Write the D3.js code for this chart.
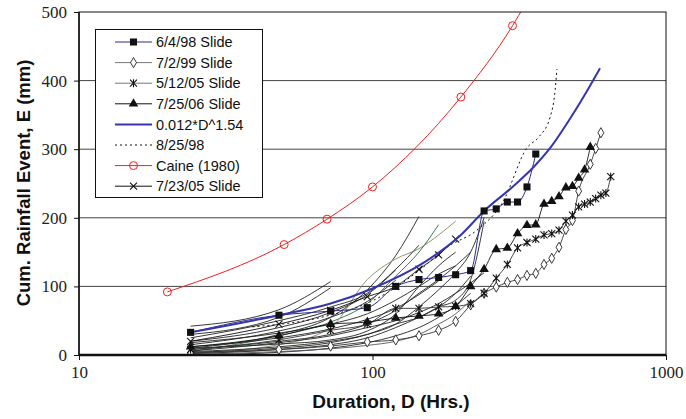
<!DOCTYPE html>
<html>
<head>
<meta charset="utf-8">
<script src="https://cdn.jsdelivr.net/npm/d3@7"></script>
<style>
  body { margin: 0; background: #fff; }
  svg { display: block; }
</style>
</head>
<body>
<svg id="chart" width="686" height="419"></svg>
<script>
// daily durations (hrs) the slide records are sampled at
const durations = [24, 48, 72, 96, 120, 144, 168, 192, 216, 240, 264, 288, 312, 336,
                   360, 384, 408, 432, 456, 480, 504, 528, 552, 576, 600, 624, 648];

// cumulative rainfall (mm) per duration
const slide060498 = [33, 58, 64, 69, 100, 110, 113, 117, 123, 210, 213, 223, 223, 245, 293];
const slide070299 = [3, 8, 13, 19, 22, 28, 36, 49, 73, 90, 99, 106, 110, 116, 119, 132, 141, 157, 183, 196, 239, null, 278, 301, 324];
const slide051205 = [8, 22, 36, 45, 68, 68, 70, 71, 75, 90, 112, 132, 156, 164, 169, 175, 177, 182, 195, 204, 216, 220, 223, 228, 233, 236, 260];
const slide072506 = [12, 28, 45, 48, 54, 57, 60, 71, 100, 125, 154, 156, 177, 189, 190, 220, 224, 231, 244, 246, 258, 270, 303];
const slide072305 = [20, 45, 65, 85, 100, 125, 146, 169];

// other (non-slide) events, thin lines
const otherEvents = [
  { c: '#222', e: [42, 66, 107] },
  { c: '#222', e: [30, 55, 98] },
  { c: '#222', e: [20, 40, 62, 88, 124] },
  { c: '#222', e: [15, 35, 55, 78, 109] },
  { c: '#222', e: [10, 30, 55, 95, 145, 202] },
  { c: '#1d6b45', e: [5, 28, 48, 75, 115, 150, 190] },
  { c: '#8a8462', e: [3, 15, 40, 110, 140, 155, 175, 195] },
  { c: '#222', e: [8, 20, 30, 45, 65, 90, 110, 130, 150] },
  { c: '#222', e: [5, 12, 20, 30, 45, 70, 95, 120, 150, 200] },
  { c: '#222', e: [12, 25, 38, 52, 68, 88, 108] },
  { c: '#222', e: [2, 8, 15, 25, 40, 55, 70, 90, 115] },
  { c: '#222', e: [6, 18, 28, 40, 50, 62, 75, 90, 105, 120] },
  { c: '#222', e: [0, 4, 10, 18, 28, 40, 55, 72, 90] },
  { c: '#222', e: [18, 32, 45, 60, 80, 100, 118, 130] },
  { c: '#222', e: [25, 50, 70, 90, 125, 160] },
  { c: '#222', e: [10, 16, 22, 35, 60, 100, 130, 150] },
  { c: '#222', e: [4, 10, 18, 30, 45, 55, 70, 80, 110, 195] },
  { c: '#555', e: [1, 5, 9, 14, 20, 30, 45, 60, 80] }
];

const powerD = [24, 48, 72, 100, 150, 200, 240, 300, 354, 400, 475, 545, 596];
const powerE = [33, 58, 75, 97, 135, 175, 210, 245, 274, 300, 347, 389, 418];

const event082598D = [39, 67, 100, 145, 179, 227, 278, 336, 369, 403, 419, 425];
const event082598E = [41, 55, 79, 124, 157, 182, 223, 302, 318, 347, 386, 417];

const caineD = [20, 50, 70, 100, 200, 300, 330];
const caineE = [92, 161, 198, 245, 376, 480, 510];

const xTicks = [10, 100, 1000];
const yTicks = [0, 100, 200, 300, 400, 500];

const legendItems = [
  { label: '6/4/98 Slide', color: '#2b2b8f', marker: 'square' },
  { label: '7/2/99 Slide', color: '#777', marker: 'diamond' },
  { label: '5/12/05 Slide', color: '#777', marker: 'asterisk' },
  { label: '7/25/06 Slide', color: '#111', marker: 'triangle' },
  { label: '0.012*D^1.54', color: '#3535b0', marker: null, width: 2 },
  { label: '8/25/98', color: '#111', marker: null, dash: '2,3' },
  { label: 'Caine (1980)', color: '#f02020', marker: 'circle' },
  { label: '7/23/05 Slide', color: '#111', marker: 'cross' }
];

const margin = { left: 79, right: 666, top: 12, bottom: 355 };

const svg = d3.select('#chart');
const x = d3.scaleLog().domain([10, 1000]).range([margin.left, margin.right]);
const y = d3.scaleLinear().domain([0, 500]).range([margin.bottom, margin.top]);

svg.append('defs').append('clipPath').attr('id', 'plot')
  .append('rect')
  .attr('x', margin.left).attr('y', margin.top)
  .attr('width', margin.right - margin.left).attr('height', margin.bottom - margin.top);

// horizontal grid
svg.append('g').selectAll('line').data(yTicks.slice(1, -1)).enter().append('line')
  .attr('x1', margin.left).attr('x2', margin.right)
  .attr('y1', d => y(d)).attr('y2', d => y(d))
  .attr('stroke', '#444').attr('stroke-width', 1);

const pairs = (ds, es) => ds.map((d, i) => [d, es[i]]).filter(p => p[1] != null);
const daily = (es) => pairs(durations.slice(0, es.length), es);

const line = d3.line().x(p => x(p[0])).y(p => y(p[1])).curve(d3.curveMonotoneX);

const plot = svg.append('g').attr('clip-path', 'url(#plot)');

plot.selectAll('path.other').data(otherEvents).enter().append('path')
  .attr('class', 'other')
  .attr('d', d => line(daily(d.e)))
  .attr('fill', 'none').attr('stroke', d => d.c).attr('stroke-width', 0.9);

const drawLine = (pts, color, width, dash) => plot.append('path')
  .attr('d', line(pts)).attr('fill', 'none')
  .attr('stroke', color).attr('stroke-width', width)
  .attr('stroke-dasharray', dash || null);

const markerPath = (kind) => {
  if (kind === 'square') return d3.symbol(d3.symbolSquare, 50)();
  if (kind === 'diamond') return d3.symbol(d3.symbolDiamond, 30)();
  if (kind === 'triangle') return d3.symbol(d3.symbolTriangle, 40)();
  if (kind === 'circle') return d3.symbol(d3.symbolCircle, 50)();
  if (kind === 'cross') return 'M-3.5,-3.5L3.5,3.5M-3.5,3.5L3.5,-3.5';
  if (kind === 'asterisk') return 'M-3.5,-3.5L3.5,3.5M-3.5,3.5L3.5,-3.5M0,-4L0,4';
  return null;
};

const markerStyle = (sel, kind, color) => {
  if (kind === 'square' || kind === 'triangle') sel.attr('fill', '#111').attr('stroke', 'none');
  else if (kind === 'diamond') sel.attr('fill', '#fff').attr('stroke', '#222').attr('stroke-width', 0.9);
  else if (kind === 'circle') sel.attr('fill', 'none').attr('stroke', color).attr('stroke-width', 1);
  else sel.attr('fill', 'none').attr('stroke', '#111').attr('stroke-width', 1.1);
};

const drawMarkers = (pts, kind, color) => {
  const g = plot.append('g');
  g.selectAll('path').data(pts).enter().append('path')
    .attr('transform', p => `translate(${x(p[0])},${y(p[1])})`)
    .attr('d', markerPath(kind))
    .call(markerStyle, kind, color);
};

// the slide series
drawLine(daily(slide070299), '#333', 0.9);
drawMarkers(daily(slide070299), 'diamond');
drawLine(daily(slide051205), '#333', 0.9);
drawMarkers(daily(slide051205), 'asterisk');
drawLine(daily(slide072506), '#111', 0.9);
drawMarkers(daily(slide072506), 'triangle');
drawLine(daily(slide072305), '#111', 0.9);
drawMarkers(daily(slide072305), 'cross');
drawLine(pairs(event082598D, event082598E), '#111', 1, '2,3');
drawLine(daily(slide060498), '#2b2b8f', 1);
drawLine(pairs(powerD, powerE), '#3535b0', 2);
drawMarkers(daily(slide060498), 'square');
drawLine(pairs(caineD, caineE), '#f02020', 1);
drawMarkers(pairs(caineD, caineE), 'circle', '#f02020');

// frame
svg.append('rect')
  .attr('x', margin.left).attr('y', margin.top)
  .attr('width', margin.right - margin.left).attr('height', margin.bottom - margin.top)
  .attr('fill', 'none').attr('stroke', '#111').attr('stroke-width', 1);
svg.append('line')
  .attr('x1', margin.left).attr('x2', margin.right)
  .attr('y1', margin.bottom).attr('y2', margin.bottom)
  .attr('stroke', '#111').attr('stroke-width', 2.5);
svg.append('line')
  .attr('x1', margin.left).attr('x2', margin.left)
  .attr('y1', margin.top).attr('y2', margin.bottom)
  .attr('stroke', '#111').attr('stroke-width', 1.5);

// axes
const xAxis = svg.append('g').attr('transform', `translate(0,${margin.bottom})`)
  .call(d3.axisBottom(x).tickValues(xTicks).tickFormat(d3.format('d')).tickSize(5).tickPadding(6));
const yAxis = svg.append('g').attr('transform', `translate(${margin.left},0)`)
  .call(d3.axisLeft(y).tickValues(yTicks).tickSize(5).tickPadding(7));
[xAxis, yAxis].forEach(a => {
  a.select('.domain').remove();
  a.selectAll('text').attr('font-family', 'Liberation Serif, serif').attr('font-size', 17).attr('fill', '#222');
  a.selectAll('line').attr('stroke', '#111');
});

svg.append('text')
  .attr('x', 391).attr('y', 408).attr('text-anchor', 'middle')
  .attr('font-family', 'Liberation Sans, Arial, sans-serif').attr('font-weight', 'bold')
  .attr('font-size', 19).attr('fill', '#111')
  .text('Duration, D (Hrs.)');
svg.append('text')
  .attr('transform', 'translate(30,183) rotate(-90)').attr('text-anchor', 'middle')
  .attr('font-family', 'Liberation Sans, Arial, sans-serif').attr('font-weight', 'bold')
  .attr('font-size', 18.5).attr('fill', '#111')
  .text('Cum. Rainfall Event, E (mm)');

// legend
const legend = svg.append('g');
legend.append('rect')
  .attr('x', 95.5).attr('y', 29.5).attr('width', 167).attr('height', 168)
  .attr('fill', '#fff').attr('stroke', '#111').attr('stroke-width', 1);
const rows = legend.selectAll('g.row').data(legendItems).enter().append('g')
  .attr('class', 'row')
  .attr('transform', (d, i) => `translate(0,${42 + i * 20.6})`);
rows.append('line')
  .attr('x1', 115).attr('x2', 152)
  .attr('stroke', d => d.color).attr('stroke-width', d => d.width || 1)
  .attr('stroke-dasharray', d => d.dash || null);
rows.filter(d => d.marker).append('path')
  .attr('transform', 'translate(133.5,0)')
  .attr('d', d => markerPath(d.marker))
  .each(function (d) { d3.select(this).call(markerStyle, d.marker, d.color); });
rows.append('text')
  .attr('x', 156).attr('y', 0).attr('dy', '0.36em')
  .attr('font-family', 'Liberation Sans, Arial, sans-serif').attr('font-size', 14.5)
  .attr('fill', '#111')
  .text(d => d.label);
</script>
</body>
</html>
